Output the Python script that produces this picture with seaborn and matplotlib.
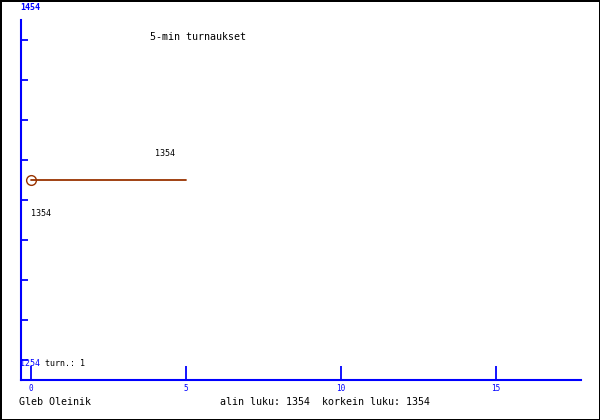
import matplotlib
matplotlib.use("Agg")
import matplotlib.pyplot as plt
import seaborn as sns
import pandas as pd

# rating history (5-min games)
games = [0, 5]
ratings = [1354, 1354]
x_ticks = [0, 5, 10, 15]
y_ticks = [1264, 1284, 1304, 1324, 1344, 1364, 1384, 1404, 1424]
title = "5-min turnaukset"
player = "Gleb Oleinik"
top_label = "1454"
bottom_label = "1254"
games_label = "turn.: 1"
summary = "alin luku: 1354  korkein luku: 1354"

BLUE = "#0000ff"
LINE = "#993300"
MONO = "DejaVu Sans Mono"

sns.set_style("white")
plt.rcParams["font.family"] = [MONO, "DejaVu Sans"]
plt.rcParams["text.color"] = "black"

fig = plt.figure(figsize=(6, 4.2), dpi=100)
fig.patch.set_edgecolor("black")
fig.patch.set_linewidth(2)
ax = fig.add_axes([20.5 / 600, 40 / 420, 560 / 600, 360 / 420])

df = pd.DataFrame({"game": games, "rating": ratings})
sns.lineplot(data=df, x="game", y="rating", ax=ax, color=LINE, linewidth=1.3,
             marker="o", markevery=[0], markersize=7, markerfacecolor="none",
             markeredgecolor=LINE, markeredgewidth=1.0)

ax.set_xlim(-10 / 31.03, 550 / 31.03)
ax.set_ylim(1254, 1434)
ax.set_xticks(x_ticks)
ax.set_yticks(y_ticks)
ax.set_yticklabels([])
ax.set_xlabel("")
ax.set_ylabel("")
ax.tick_params(axis="x", bottom=True, direction="in", length=10, width=1.3,
               color=BLUE, labelcolor=BLUE, labelsize=5.5, pad=3)
ax.tick_params(axis="y", left=True, direction="in", length=5, width=1.3,
               color=BLUE)
for side in ["top", "right"]:
    ax.spines[side].set_visible(False)
for side in ["left", "bottom"]:
    ax.spines[side].set_color(BLUE)
    ax.spines[side].set_linewidth(1.5)
ax.set_facecolor("white")

# value labels next to the line
ax.text(4.0, 1367, str(ratings[0]), fontsize=6, ha="left", va="center")
ax.text(0.0, 1337, str(ratings[0]), fontsize=6, ha="left", va="center")

# figure texts (pixel coords converted)
def px(x, y):
    return x / 600, 1 - y / 420

fig.text(*px(20, 8), top_label, color=BLUE, fontsize=6, fontweight="bold",
         ha="left", va="center")
fig.text(*px(150, 37), title, fontsize=7.2, ha="left", va="center")
fig.text(*px(20, 364), bottom_label, color=BLUE, fontsize=6, ha="left", va="center")
fig.text(*px(45, 364), games_label, fontsize=6, ha="left", va="center")
fig.text(*px(19, 402), player, fontsize=7.2, ha="left", va="center")
fig.text(*px(220, 402), summary, fontsize=7.2, ha="left", va="center")

fig.savefig("out.png", dpi=100, facecolor="white", edgecolor="black")
